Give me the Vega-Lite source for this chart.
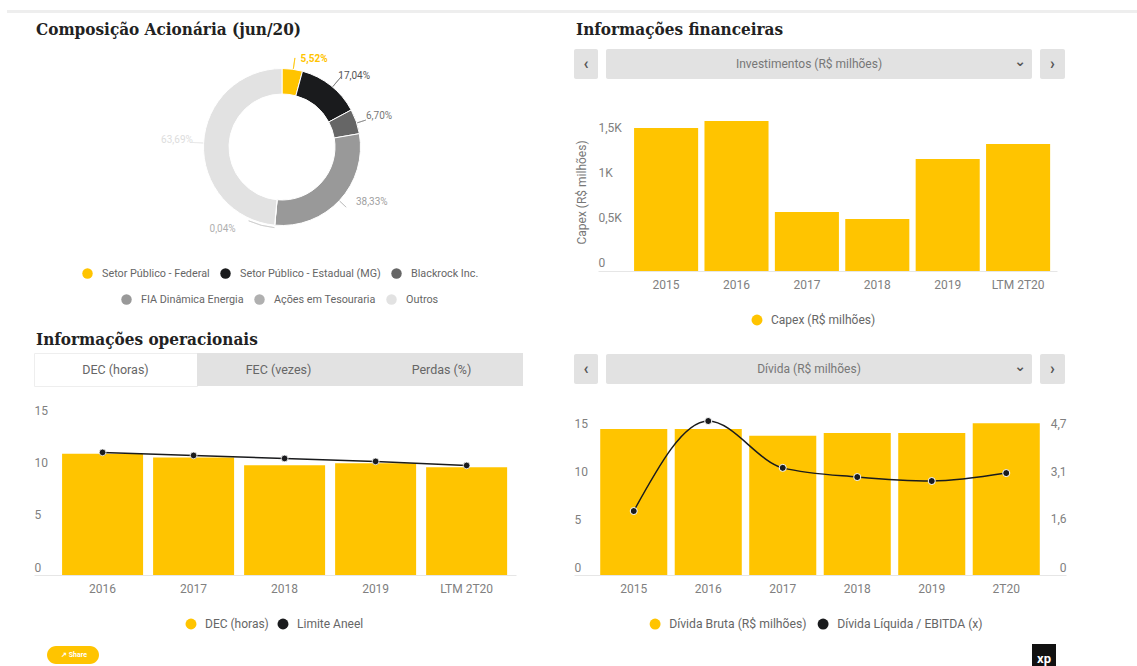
{"$schema":"https://vega.github.io/schema/vega-lite/v6.json","padding":{"left":7,"top":5,"right":0,"bottom":0},"background":"white","config":{"view":{"stroke":null},"font":"Roboto","axis":{"labelFont":"Roboto","labelFontSize":12,"labelColor":"#808080","grid":false,"ticks":false,"title":null},"legend":{"title":null,"direction":"horizontal","symbolType":"circle","symbolSize":120,"symbolStrokeWidth":0,"labelFont":"Roboto","labelFontSize":12,"labelColor":"#666666","padding":0,"columnPadding":10,"labelOffset":8,"gridAlign":"none"},"title":{"font":"DejaVu Serif Condensed","fontSize":17,"fontWeight":"bold","color":"#222222","anchor":"start","frame":"group","dx":2}},
"resolve":{"scale":{"color":"independent"},"legend":{"color":"independent"}},
"vconcat":[
{"width":1130,"height":3,"view":{"fill":"#eeeeee","stroke":null},"data":{"values":[{}]},"mark":"text","encoding":{"text":{"value":""}}},
{"resolve":{"scale":{"color":"independent"},"legend":{"color":"independent"}},"hconcat":[
{"width":27,"height":1,"data":{"values":[{}]},"mark":"text","encoding":{"text":{"value":""}}},
{"resolve":{"scale":{"color":"independent"},"legend":{"color":"independent"}},"vconcat":[
{"width":10,"height":39,"data":{"values":[{}]},"mark":"text","encoding":{"text":{"value":""}}},
{"width":496,"height":190,"title":{"text":"Composição Acionária (jun/20)","offset":13},
"data":{"values":[{"cat":"Setor Público - Federal","v":5.52,"fila":1,"rot":"5,52%"},{"cat":"Setor Público - Estadual (MG)","v":17.04,"fila":1,"rot":"17,04%"},{"cat":"Blackrock Inc.","v":6.70,"fila":1,"rot":"6,70%"},{"cat":"FIA Dinâmica Energia","v":38.33,"fila":2,"rot":"38,33%"},{"cat":"Ações em Tesouraria","v":0.04,"fila":2,"rot":"0,04%"},{"cat":"Outros","v":63.69,"fila":2,"rot":"63,69%"}]},
"transform":[{"stack":"v","groupby":[],"as":["v0","v1"]}],
"resolve":{"scale":{"color":"independent"},"legend":{"color":"independent"}},
"layer":[
{"transform":[{"filter":"datum.fila==1"}],"mark":{"type":"arc","outerRadius":78.5,"innerRadius":53,"stroke":"white","strokeWidth":1},"encoding":{"theta":{"field":"v0","type":"quantitative","scale":{"domain":[0,131.32]}},"theta2":{"field":"v1"},"color":{"field":"cat","type":"nominal","sort":null,"scale":{"domain":["Setor Público - Federal","Setor Público - Estadual (MG)","Blackrock Inc."],"range":["#FFC400","#1A1B1D","#666666"]},"legend":{"orient":"none","legendX":48,"legendY":216,"labelFontSize":10.8,"labelOffset":9,"symbolSize":110}}}},
{"transform":[{"filter":"datum.fila==2"}],"mark":{"type":"arc","outerRadius":78.5,"innerRadius":53,"stroke":"white","strokeWidth":1},"encoding":{"theta":{"field":"v0","type":"quantitative","scale":{"domain":[0,131.32]}},"theta2":{"field":"v1"},"color":{"field":"cat","type":"nominal","sort":null,"scale":{"domain":["FIA Dinâmica Energia","Ações em Tesouraria","Outros"],"range":["#999999","#B0B0B0","#E2E2E2"]},"legend":{"orient":"none","legendX":87,"legendY":242,"labelFontSize":10.8,"labelOffset":9,"symbolSize":110}}}},
{"transform":[{"filter":"datum.cat=='Setor Público - Federal'"}],"mark":{"type":"arc","outerRadius":90,"innerRadius":79,"fill":null,"stroke":"#FFC400","strokeWidth":0.7,"thetaOffset":-0.12,"theta2Offset":-0.12},"encoding":{"theta":{"field":"v1","type":"quantitative"},"theta2":{"field":"v1"}}},
{"transform":[{"filter":"datum.cat=='Setor Público - Estadual (MG)'"}],"mark":{"type":"arc","outerRadius":92,"innerRadius":79,"fill":null,"stroke":"#777777","strokeWidth":0.7,"thetaOffset":-0.38,"theta2Offset":-0.38},"encoding":{"theta":{"field":"v1","type":"quantitative"},"theta2":{"field":"v1"}}},
{"transform":[{"filter":"datum.cat=='Blackrock Inc.'"}],"mark":{"type":"arc","outerRadius":88,"innerRadius":79,"fill":null,"stroke":"#888888","strokeWidth":0.7,"thetaOffset":-0.14,"theta2Offset":-0.14},"encoding":{"theta":{"field":"v1","type":"quantitative"},"theta2":{"field":"v1"}}},
{"transform":[{"filter":"datum.cat=='FIA Dinâmica Energia'"}],"mark":{"type":"arc","outerRadius":88,"innerRadius":79,"fill":null,"stroke":"#BBBBBB","strokeWidth":0.7,"thetaOffset":-0.91,"theta2Offset":-0.91},"encoding":{"theta":{"field":"v1","type":"quantitative"},"theta2":{"field":"v1"}}},
{"transform":[{"filter":"datum.cat=='Ações em Tesouraria'"}],"mark":{"type":"arc","outerRadius":81,"innerRadius":81,"fill":null,"stroke":"#CCCCCC","strokeWidth":0.7,"theta2Offset":0.33},"encoding":{"theta":{"field":"v1","type":"quantitative"},"theta2":{"field":"v1"}}},
{"transform":[{"filter":"datum.cat=='Outros'"}],"mark":{"type":"arc","outerRadius":90,"innerRadius":79,"fill":null,"stroke":"#E6E6E6","strokeWidth":0.7,"thetaOffset":-1.52,"theta2Offset":-1.52},"encoding":{"theta":{"field":"v1","type":"quantitative"},"theta2":{"field":"v1"}}},
{"transform":[{"filter":"datum.cat=='Setor Público - Federal'"}],"mark":{"type":"text","radius":100,"dx":6,"dy":9,"fontSize":10,"fontWeight":"bold","color":"#FFC400"},"encoding":{"theta":{"field":"v1","type":"quantitative"},"text":{"field":"rot"}}},
{"transform":[{"filter":"datum.cat=='Setor Público - Estadual (MG)'"}],"mark":{"type":"text","radius":100,"dx":-16,"dy":-24,"fontSize":10,"color":"#555555"},"encoding":{"theta":{"field":"v1","type":"quantitative"},"text":{"field":"rot"}}},
{"transform":[{"filter":"datum.cat=='Blackrock Inc.'"}],"mark":{"type":"text","radius":100,"dx":-1.5,"dy":-14,"fontSize":10,"color":"#777777"},"encoding":{"theta":{"field":"v1","type":"quantitative"},"text":{"field":"rot"}}},
{"transform":[{"filter":"datum.cat=='FIA Dinâmica Energia'"}],"mark":{"type":"text","radius":100,"dx":99,"dy":-45,"fontSize":10,"color":"#A0A0A0"},"encoding":{"theta":{"field":"v1","type":"quantitative"},"text":{"field":"rot"}}},
{"transform":[{"filter":"datum.cat=='Ações em Tesouraria'"}],"mark":{"type":"text","radius":100,"dx":-50,"dy":-18,"fontSize":10,"color":"#B0B0B0"},"encoding":{"theta":{"field":"v1","type":"quantitative"},"text":{"field":"rot"}}},
{"transform":[{"filter":"datum.cat=='Outros'"}],"mark":{"type":"text","radius":100,"dx":-105,"dy":93,"fontSize":10,"color":"#DDDDDD"},"encoding":{"theta":{"field":"v1","type":"quantitative"},"text":{"field":"rot"}}}
]},
{"width":10,"height":111,"data":{"values":[{}]},"mark":"text","encoding":{"text":{"value":""}}},
{"hconcat":[
{"width":163,"height":33,"title":{"text":"Informações operacionais","offset":4},"view":{"fill":"white","stroke":"#EEEEEE"},"data":{"values":[{"t":"DEC (horas)"}]},"mark":{"type":"text","fontSize":12.5,"color":"#666666"},"encoding":{"text":{"field":"t"}}},
{"width":163,"height":33,"view":{"fill":"#E2E2E2","stroke":null},"data":{"values":[{"t":"FEC (vezes)"}]},"mark":{"type":"text","fontSize":12.5,"color":"#666666"},"encoding":{"text":{"field":"t"}}},
{"width":163,"height":33,"view":{"fill":"#E2E2E2","stroke":null},"data":{"values":[{"t":"Perdas (%)"}]},"mark":{"type":"text","fontSize":12.5,"color":"#666666"},"encoding":{"text":{"field":"t"}}}
],"spacing":0,"bounds":"flush","align":"none"},
{"width":10,"height":53,"data":{"values":[{}]},"mark":"text","encoding":{"text":{"value":""}}},
{"width":482,"height":169,"data":{"values":[{"ano":"2016","serie":"DEC (horas)","v":11.6},{"ano":"2017","serie":"DEC (horas)","v":11.25},{"ano":"2018","serie":"DEC (horas)","v":10.5},{"ano":"2019","serie":"DEC (horas)","v":10.7},{"ano":"LTM 2T20","serie":"DEC (horas)","v":10.3},{"ano":"2016","serie":"Limite Aneel","v":11.73},{"ano":"2017","serie":"Limite Aneel","v":11.44},{"ano":"2018","serie":"Limite Aneel","v":11.15},{"ano":"2019","serie":"Limite Aneel","v":10.87},{"ano":"LTM 2T20","serie":"Limite Aneel","v":10.48}]},
"encoding":{"x":{"field":"ano","type":"nominal","sort":null,"scale":{"paddingInner":0.11,"paddingOuter":0.203,"align":0.76},"axis":{"labelAngle":0,"domainColor":"#E6E6E6","labelPadding":8}},"y":{"field":"v","type":"quantitative","scale":{"domain":[0,16.17],"nice":false},"axis":{"values":[0,5,10,15],"domain":false,"labelAlign":"left","labelBaseline":"bottom","labelOffset":-1,"labelPadding":0,"tickSize":0}}},
"layer":[
{"transform":[{"filter":"datum.serie=='DEC (horas)'"}],"mark":"bar","encoding":{"color":{"field":"serie","type":"nominal","sort":null,"scale":{"domain":["DEC (horas)","Limite Aneel"],"range":["#FFC400","#1A1B1D"]},"legend":{"orient":"none","legendX":151,"legendY":212,"columnPadding":8}}}},
{"transform":[{"filter":"datum.serie=='Limite Aneel'"}],"mark":{"type":"line","color":"#1A1B1D","strokeWidth":1.5}},
{"transform":[{"filter":"datum.serie=='Limite Aneel'"}],"mark":{"type":"point","filled":true,"size":45,"opacity":1,"stroke":"white","strokeWidth":0.8},"encoding":{"color":{"field":"serie","type":"nominal","sort":null}}}
]},
{"width":10,"height":71,"data":{"values":[{}]},"mark":"text","encoding":{"text":{"value":""}}},
{"hconcat":[
{"width":13,"height":1,"data":{"values":[{}]},"mark":"text","encoding":{"text":{"value":""}}},
{"width":52,"height":18,"view":{"fill":"#FFC400","stroke":null,"cornerRadius":9},"data":{"values":[{"t":"↗ Share"}]},"mark":{"type":"text","fontSize":7,"fontWeight":"bold","color":"white","dx":1},"encoding":{"text":{"field":"t"}}}
],"spacing":0,"bounds":"flush","align":"none"}
],"spacing":0,"bounds":"flush","align":"none"},
{"width":540,"height":1,"data":{"values":[{}]},"mark":"text","encoding":{"text":{"value":""}}},
{"resolve":{"scale":{"color":"independent"},"legend":{"color":"independent"}},"vconcat":[
{"width":10,"height":36,"data":{"values":[{}]},"mark":"text","encoding":{"text":{"value":""}}},
{"hconcat":[
{"width":24,"height":30,"title":{"text":"Informações financeiras","offset":10},"view":{"fill":"#E2E2E2","stroke":null,"cornerRadius":2},"data":{"values":[{"t":"‹"}]},"mark":{"type":"text","fontSize":16,"fontWeight":"bold","color":"#555555"},"encoding":{"text":{"field":"t"}}},
{"width":8,"height":1,"data":{"values":[{}]},"mark":"text","encoding":{"text":{"value":""}}},
{"width":426,"height":30,"view":{"fill":"#E2E2E2","stroke":null,"cornerRadius":2},"data":{"values":[{"t":"Investimentos (R$ milhões)","c":"⌄"}]},"layer":[{"mark":{"type":"text","fontSize":12,"color":"#777777","dx":-10},"encoding":{"text":{"field":"t"}}},{"mark":{"type":"text","font":"DejaVu Sans","fontSize":14,"fontWeight":"bold","color":"#555555","dx":201,"dy":-2},"encoding":{"text":{"field":"c"}}}]},
{"width":8,"height":1,"data":{"values":[{}]},"mark":"text","encoding":{"text":{"value":""}}},
{"width":25,"height":30,"view":{"fill":"#E2E2E2","stroke":null,"cornerRadius":2},"data":{"values":[{"t":"›"}]},"mark":{"type":"text","fontSize":16,"fontWeight":"bold","color":"#555555"},"encoding":{"text":{"field":"t"}}}
],"spacing":0,"bounds":"flush","align":"none"},
{"width":10,"height":61,"data":{"values":[{}]},"mark":"text","encoding":{"text":{"value":""}}},
{"resolve":{"scale":{"color":"independent"},"legend":{"color":"independent"}},"hconcat":[
{"width":24,"height":1,"data":{"values":[{}]},"mark":"text","encoding":{"text":{"value":""}}},
{"width":459,"height":161,"data":{"values":[{"ano":"2015","serie":"Capex (R$ milhões)","v":1589},{"ano":"2016","serie":"Capex (R$ milhões)","v":1667},{"ano":"2017","serie":"Capex (R$ milhões)","v":656},{"ano":"2018","serie":"Capex (R$ milhões)","v":578},{"ano":"2019","serie":"Capex (R$ milhões)","v":1244},{"ano":"LTM 2T20","serie":"Capex (R$ milhões)","v":1411}]},"mark":"bar","encoding":{"x":{"field":"ano","type":"nominal","sort":null,"scale":{"paddingInner":0.09,"paddingOuter":0.305,"align":0.84},"axis":{"labelAngle":0,"domainColor":"#E6E6E6","labelPadding":8}},"y":{"field":"v","type":"quantitative","scale":{"domain":[0,1789],"nice":false},"axis":{"values":[0,500,1000,1500],"labelExpr":"datum.value==0?'0':replace(format(datum.value/1000,'.1~f'),'.',',')+'K'","domain":false,"labelAlign":"left","labelBaseline":"bottom","labelOffset":-2,"labelPadding":0,"tickSize":0,"title":"Capex (R$ milhões)","titleFont":"Roboto","titleFontSize":12,"titleFontWeight":"normal","titleColor":"#777777","titleX":-10,"titleY":82,"titleAngle":-90}},"color":{"field":"serie","type":"nominal","scale":{"range":["#FFC400"]},"legend":{"orient":"none","legendX":153,"legendY":204}}}}
],"spacing":0,"bounds":"flush","align":"none"},
{"width":10,"height":244,"data":{"values":[{}]},"mark":"text","encoding":{"text":{"value":""}}},
{"hconcat":[
{"width":24,"height":30,"view":{"fill":"#E2E2E2","stroke":null,"cornerRadius":2},"data":{"values":[{"t":"‹"}]},"mark":{"type":"text","fontSize":16,"fontWeight":"bold","color":"#555555"},"encoding":{"text":{"field":"t"}}},
{"width":8,"height":1,"data":{"values":[{}]},"mark":"text","encoding":{"text":{"value":""}}},
{"width":426,"height":30,"view":{"fill":"#E2E2E2","stroke":null,"cornerRadius":2},"data":{"values":[{"t":"Dívida (R$ milhões)","c":"⌄"}]},"layer":[{"mark":{"type":"text","fontSize":12,"color":"#777777","dx":-10},"encoding":{"text":{"field":"t"}}},{"mark":{"type":"text","font":"DejaVu Sans","fontSize":14,"fontWeight":"bold","color":"#555555","dx":201,"dy":-2},"encoding":{"text":{"field":"c"}}}]},
{"width":8,"height":1,"data":{"values":[{}]},"mark":"text","encoding":{"text":{"value":""}}},
{"width":25,"height":30,"view":{"fill":"#E2E2E2","stroke":null,"cornerRadius":2},"data":{"values":[{"t":"›"}]},"mark":{"type":"text","fontSize":16,"fontWeight":"bold","color":"#555555"},"encoding":{"text":{"field":"t"}}}
],"spacing":0,"bounds":"flush","align":"none"},
{"width":10,"height":56,"data":{"values":[{}]},"mark":"text","encoding":{"text":{"value":""}}},
{"width":492,"height":165,"data":{"values":[{"ano":"2015","serie":"Dívida Bruta (R$ milhões)","v":15.2},{"ano":"2016","serie":"Dívida Bruta (R$ milhões)","v":15.2},{"ano":"2017","serie":"Dívida Bruta (R$ milhões)","v":14.5},{"ano":"2018","serie":"Dívida Bruta (R$ milhões)","v":14.8},{"ano":"2019","serie":"Dívida Bruta (R$ milhões)","v":14.8},{"ano":"2T20","serie":"Dívida Bruta (R$ milhões)","v":15.8},{"ano":"2015","serie":"Dívida Líquida / EBITDA (x)","v":2.09},{"ano":"2016","serie":"Dívida Líquida / EBITDA (x)","v":5.03},{"ano":"2017","serie":"Dívida Líquida / EBITDA (x)","v":3.5},{"ano":"2018","serie":"Dívida Líquida / EBITDA (x)","v":3.2},{"ano":"2019","serie":"Dívida Líquida / EBITDA (x)","v":3.07},{"ano":"2T20","serie":"Dívida Líquida / EBITDA (x)","v":3.33}]},
"encoding":{"x":{"field":"ano","type":"nominal","sort":null,"scale":{"paddingInner":0.1,"paddingOuter":0.352},"axis":{"labelAngle":0,"domainColor":"#E6E6E6","labelPadding":8}}},
"resolve":{"scale":{"y":"independent"}},
"layer":[
{"transform":[{"filter":"datum.serie=='Dívida Bruta (R$ milhões)'"}],"mark":"bar","encoding":{"y":{"field":"v","type":"quantitative","scale":{"domain":[0,17.19],"nice":false},"axis":{"orient":"left","values":[0,5,10,15],"domain":false,"labelAlign":"left","labelBaseline":"bottom","labelOffset":-1,"labelPadding":0,"tickSize":0}},"color":{"field":"serie","type":"nominal","sort":null,"scale":{"domain":["Dívida Bruta (R$ milhões)","Dívida Líquida / EBITDA (x)"],"range":["#FFC400","#1A1B1D"]},"legend":{"orient":"none","legendX":75,"legendY":208,"labelFontSize":12.2}}}},
{"transform":[{"filter":"datum.serie=='Dívida Líquida / EBITDA (x)'"}],"encoding":{"y":{"field":"v","type":"quantitative","scale":{"domain":[0,5.39],"nice":false},"axis":{"orient":"right","values":[0,1.57,3.13,4.7],"labelExpr":"replace(format(datum.value,'.1~f'),'.',',')","domain":false,"labelAlign":"right","labelBaseline":"bottom","labelOffset":-1,"labelPadding":0,"tickSize":0}}},"layer":[{"mark":{"type":"line","color":"#1A1B1D","strokeWidth":1.5,"interpolate":"monotone"}},{"mark":{"type":"point","filled":true,"size":50,"opacity":1,"stroke":"white","strokeWidth":1},"encoding":{"color":{"field":"serie","type":"nominal","sort":null}}}]}
]},
{"width":10,"height":69,"data":{"values":[{}]},"mark":"text","encoding":{"text":{"value":""}}},
{"hconcat":[
{"width":458,"height":1,"data":{"values":[{}]},"mark":"text","encoding":{"text":{"value":""}}},
{"width":24,"height":22,"view":{"fill":"#111111","stroke":null},"data":{"values":[{"t":"xp"}]},"mark":{"type":"text","fontSize":13,"fontWeight":"bold","color":"white","dy":4},"encoding":{"text":{"field":"t"}}}
],"spacing":0,"bounds":"flush","align":"none"}
],"spacing":0,"bounds":"flush","align":"none"}
],"spacing":0,"bounds":"flush","align":"none"}
],"spacing":0,"bounds":"flush","align":"none"}
